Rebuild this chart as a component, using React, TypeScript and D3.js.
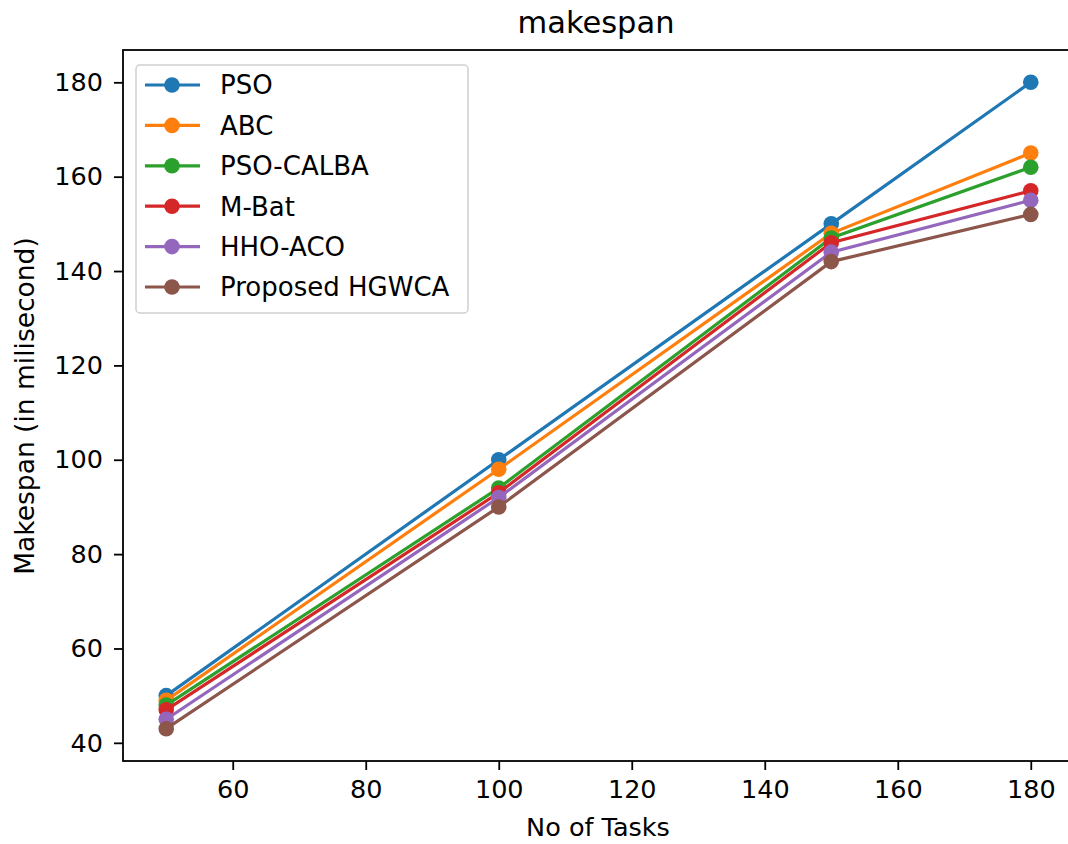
import React, { useEffect, useRef } from 'react';
import * as d3 from 'd3';

const tasks = [50, 100, 150, 180];
const seriesNames = ['PSO', 'ABC', 'PSO-CALBA', 'M-Bat', 'HHO-ACO', 'Proposed HGWCA'];
const pso = [50, 100, 150, 180];
const abc = [49, 98, 148, 165];
const psoCalba = [48, 94, 147, 162];
const mBat = [47, 93, 146, 157];
const hhoAco = [45, 92, 144, 155];
const hgwca = [43, 90, 142, 152];
const colors = ['#1f77b4', '#ff7f0e', '#2ca02c', '#d62728', '#9467bd', '#8c564b'];
const xTicks = [60, 80, 100, 120, 140, 160, 180];
const yTicks = [40, 60, 80, 100, 120, 140, 160, 180];

const width = 1068;
const height = 844;
const margin = { top: 50, right: -6, bottom: 83, left: 123 };
const font = 'DejaVu Sans, sans-serif';
const fs = 25.5;

const App = () => {
  const ref = useRef<SVGSVGElement>(null);

  useEffect(() => {
    const svg = d3.select(ref.current);
    svg.selectAll('*').remove();

    const x = d3.scaleLinear().domain([43.5, 186.5]).range([margin.left, width - margin.right]);
    const y = d3.scaleLinear().domain([36.15, 186.85]).range([height - margin.bottom, margin.top]);

    const data = [pso, abc, psoCalba, mBat, hhoAco, hgwca];

    const xAxis = svg.append('g')
      .attr('transform', `translate(0, ${height - margin.bottom})`)
      .call(d3.axisBottom(x).tickValues(xTicks).tickSize(9).tickPadding(10).tickFormat(d3.format('d')));
    const yAxis = svg.append('g')
      .attr('transform', `translate(${margin.left}, 0)`)
      .call(d3.axisLeft(y).tickValues(yTicks).tickSize(9).tickPadding(11).tickFormat(d3.format('d')));
    [xAxis, yAxis].forEach(a => {
      a.select('.domain').remove();
      a.attr('font-size', null).attr('font-family', null);
      a.selectAll('line').attr('stroke', '#000').attr('stroke-width', 1.8);
      a.selectAll('text').attr('font-family', font).attr('font-size', fs).attr('fill', '#000');
    });

    // frame
    svg.append('rect')
      .attr('x', margin.left).attr('y', margin.top)
      .attr('width', width - margin.right - margin.left)
      .attr('height', height - margin.bottom - margin.top)
      .attr('fill', 'none').attr('stroke', '#000').attr('stroke-width', 1.8);

    const line = d3.line<number>().x((d, i) => x(tasks[i])).y(d => y(d));

    data.forEach((vals, s) => {
      svg.append('path')
        .datum(vals)
        .attr('d', line)
        .attr('fill', 'none')
        .attr('stroke', colors[s])
        .attr('stroke-width', 3.2);
      svg.append('g').selectAll('circle')
        .data(vals)
        .join('circle')
        .attr('cx', (d, i) => x(tasks[i]))
        .attr('cy', d => y(d))
        .attr('r', 7.8)
        .attr('fill', colors[s]);
    });

    // legend
    const lg = svg.append('g');
    lg.append('rect')
      .attr('x', 136).attr('y', 65).attr('width', 332).attr('height', 248)
      .attr('rx', 4).attr('fill', 'white').attr('fill-opacity', 0.8)
      .attr('stroke', '#d0d0d0').attr('stroke-width', 1.5);
    seriesNames.forEach((name, i) => {
      const yy = 85 + i * 40.4;
      lg.append('line')
        .attr('x1', 145).attr('x2', 200).attr('y1', yy).attr('y2', yy)
        .attr('stroke', colors[i]).attr('stroke-width', 3.2);
      lg.append('circle').attr('cx', 172).attr('cy', yy).attr('r', 7.8).attr('fill', colors[i]);
      lg.append('text')
        .attr('x', 220).attr('y', yy).attr('dy', '0.36em')
        .attr('font-family', font).attr('font-size', 26).attr('fill', '#000')
        .text(name);
    });

    svg.append('text')
      .attr('x', 596).attr('y', 33)
      .attr('text-anchor', 'middle')
      .attr('font-family', font).attr('font-size', 30.5).attr('fill', '#000')
      .text('makespan');

    svg.append('text')
      .attr('x', 598).attr('y', 836)
      .attr('text-anchor', 'middle')
      .attr('font-family', font).attr('font-size', fs).attr('fill', '#000')
      .text('No of Tasks');

    svg.append('text')
      .attr('transform', `translate(34, 406) rotate(-90)`)
      .attr('text-anchor', 'middle')
      .attr('font-family', font).attr('font-size', 26.5).attr('fill', '#000')
      .text('Makespan (in milisecond)');
  }, []);

  return (
    <svg ref={ref} width={width} height={height}
      style={{ position: 'absolute', left: 0, top: 0, background: 'white' }} />
  );
};

export default App;
